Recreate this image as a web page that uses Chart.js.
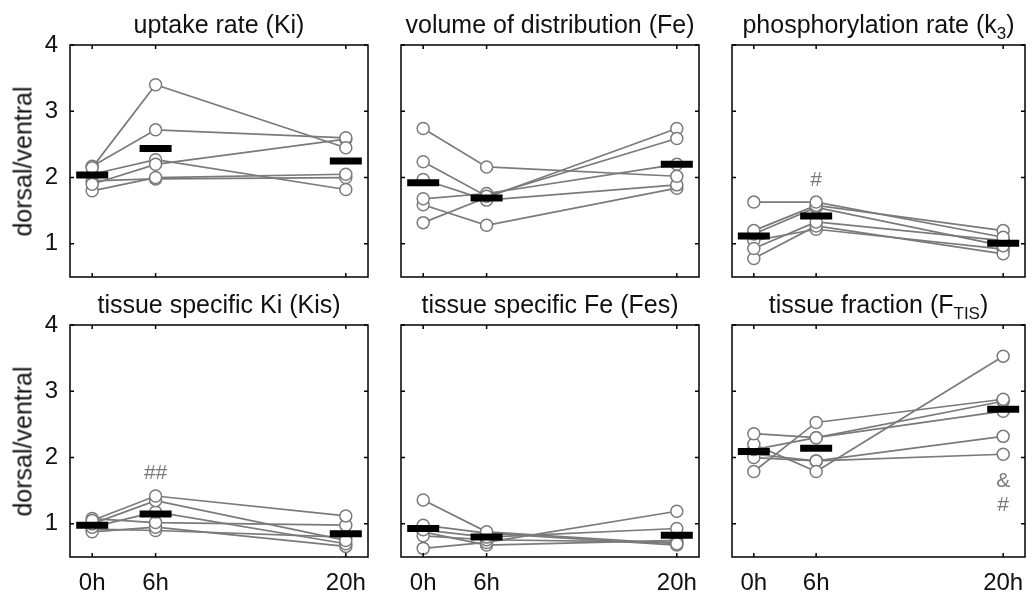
<!DOCTYPE html>
<html><head><meta charset="utf-8">
<script src="https://cdn.jsdelivr.net/npm/chart.js@4/dist/chart.umd.min.js"></script>
<style>
body{margin:0;background:#fff;}
#wrap{position:relative;width:1034px;height:597px;overflow:hidden;background:#fff;font-family:"Liberation Sans",Arial,sans-serif;color:#111;}
.panel{position:absolute;}
.title{position:absolute;font-size:25px;line-height:25px;white-space:nowrap;text-align:center;width:400px;}
.title sub{font-size:17px;vertical-align:-6px;line-height:0;}
.ylab{position:absolute;font-size:25px;line-height:25px;white-space:nowrap;width:240px;text-align:center;transform:rotate(-90deg);}
</style></head>
<body><div id="wrap"></div>
<script>
// ---- data ----
const timeLabels = ['0h', '6h', '20h'];
const timePos = [1, 2, 5];
const yTicks = [1, 2, 3, 4];
const yLabel = 'dorsal/ventral';
const titles = ['uptake rate (Ki)', 'volume of distribution (Fe)', 'phosphorylation rate (k<sub>3</sub>)',
                'tissue specific Ki (Kis)', 'tissue specific Fe (Fes)', 'tissue fraction (F<sub>TIS</sub>)'];

const kiSubjects = [[2.15, 3.40, 2.45], [2.17, 2.72, 2.60], [1.90, 2.20, 2.58], [2.05, 2.27, 1.82], [1.80, 2.00, 2.05], [1.95, 1.98, 2.00]];
const kiMeans = [2.04, 2.44, 2.25];

const feSubjects = [[2.74, 2.16, 2.02], [2.24, 1.72, 2.59], [1.97, 1.66, 1.89], [1.68, 1.76, 2.20], [1.59, 1.28, 1.84], [1.32, 1.70, 2.74]];
const feMeans = [1.92, 1.69, 2.20];

const k3Subjects = [[1.63, 1.63, 1.10], [1.20, 1.58, 1.20], [1.15, 1.55, 0.97], [0.93, 1.33, 1.05], [0.78, 1.27, 0.85], [1.05, 1.22, 0.92]];
const k3Means = [1.12, 1.42, 1.01];

const kisSubjects = [[1.05, 1.42, 1.12], [1.00, 1.35, 0.75], [0.95, 1.18, 0.70], [1.08, 1.02, 0.98], [0.88, 0.95, 0.66], [0.92, 0.90, 0.80]];
const kisMeans = [0.98, 1.15, 0.85];

const fesSubjects = [[1.36, 0.88, 0.70], [0.98, 0.86, 0.68], [0.91, 0.80, 0.93], [0.82, 0.76, 0.72], [0.63, 0.72, 1.19], [0.88, 0.68, 0.75]];
const fesMeans = [0.93, 0.80, 0.83];

const ftisSubjects = [[1.79, 2.53, 2.88], [2.36, 2.30, 2.85], [2.20, 1.79, 3.53], [2.12, 2.30, 2.70], [2.00, 1.95, 2.32], [2.05, 1.95, 2.05]];
const ftisMeans = [2.09, 2.14, 2.73];

const k3Marks = [{x: 2, y: 1.96, t: '#'}];
const kisMarks = [{x: 2, y: 1.76, t: '##'}];
const ftisMarks = [{x: 5, y: 1.64, t: '&'}, {x: 5, y: 1.28, t: '#'}];

// ---- layout ----
const cols = [[70, 368], [401, 699], [732, 1025]];
const rows = [[45, 277], [325, 557]];
const FONT = '"Liberation Sans", Arial, sans-serif';
const GRAY = '#7a7a7a';

const boxPlugin = {
  id: 'boxTicks',
  afterDraw(chart) {
    const {ctx, chartArea: a, scales: {x, y}} = chart;
    ctx.save();
    ctx.strokeStyle = '#000';
    ctx.lineWidth = 1.5;
    ctx.beginPath();
    timePos.forEach(v => {
      const px = x.getPixelForValue(v);
      ctx.moveTo(px, a.bottom); ctx.lineTo(px, a.bottom - 4);
      ctx.moveTo(px, a.top); ctx.lineTo(px, a.top + 4);
    });
    yTicks.forEach(v => {
      const py = y.getPixelForValue(v);
      ctx.moveTo(a.left, py); ctx.lineTo(a.left + 4, py);
      ctx.moveTo(a.right, py); ctx.lineTo(a.right - 4, py);
    });
    ctx.stroke();
    ctx.strokeRect(a.left, a.top, a.right - a.left, a.bottom - a.top);
    ctx.restore();
  }
};
const markPlugin = {
  id: 'marks',
  afterDatasetsDraw(chart, args, opts) {
    const marks = opts.marks || [];
    const {ctx, scales: {x, y}} = chart;
    ctx.save();
    ctx.fillStyle = GRAY;
    ctx.font = '21px ' + FONT;
    ctx.textAlign = 'center';
    ctx.textBaseline = 'middle';
    marks.forEach(m => ctx.fillText(m.t, x.getPixelForValue(m.x), y.getPixelForValue(m.y)));
    ctx.restore();
  }
};

const wrap = document.getElementById('wrap');
const PADL = 60, PADT = 28, PADR = 28, PADB = 45;

function makePanel(idx, subjects, means, marks) {
  const r = Math.floor(idx / 3), c = idx % 3;
  const [l, rt] = cols[c];
  const [t, b] = rows[r];
  const W = rt - l + PADL + PADR, H = b - t + PADT + PADB;
  const div = document.createElement('div');
  div.className = 'panel';
  div.style.left = (l - PADL) + 'px';
  div.style.top = (t - PADT) + 'px';
  div.style.width = W + 'px';
  div.style.height = H + 'px';
  const cv = document.createElement('canvas');
  cv.width = W; cv.height = H;
  div.appendChild(cv);
  wrap.appendChild(div);

  const title = document.createElement('div');
  title.className = 'title';
  title.innerHTML = titles[idx];
  title.style.left = ((l + rt) / 2 - 200) + 'px';
  title.style.top = (r === 0 ? 12 : 292) + 'px';
  wrap.appendChild(title);

  if (c === 0) {
    const yl = document.createElement('div');
    yl.className = 'ylab';
    yl.textContent = yLabel;
    yl.style.left = (23 - 120) + 'px';
    yl.style.top = ((t + b) / 2 - 12.5) + 'px';
    wrap.appendChild(yl);
  }

  const datasets = subjects.map(s => ({
    data: timePos.map((x, i) => ({x, y: s[i]})),
    showLine: true,
    borderColor: GRAY,
    borderWidth: 1.7,
    pointRadius: 6,
    pointBackgroundColor: '#fff',
    pointBorderColor: GRAY,
    pointBorderWidth: 1.5,
    order: 1
  }));
  datasets.push({
    data: timePos.map((x, i) => ({x, y: means[i]})),
    showLine: false,
    pointStyle: 'line',
    pointRadius: 16,
    pointBorderWidth: 7,
    pointBorderColor: '#000',
    pointBackgroundColor: '#000',
    order: 0
  });

  new Chart(cv, {
    type: 'scatter',
    data: {datasets},
    plugins: [boxPlugin, markPlugin],
    options: {
      responsive: false,
      animation: false,
      devicePixelRatio: 1,
      events: [],
      layout: {padding: {left: 0, top: PADT, right: PADR, bottom: 0}},
      plugins: {legend: {display: false}, tooltip: {enabled: false}, marks: {marks}},
      scales: {
        x: {
          type: 'linear', min: 0.65, max: 5.35,
          afterBuildTicks: s => { s.ticks = timePos.map(v => ({value: v})); },
          afterFit: s => { s.height = PADB; s.paddingLeft = 0; s.paddingRight = 0; s.paddingTop = 0; s.paddingBottom = 0; },
          grid: {display: false, drawTicks: false},
          border: {display: false},
          ticks: {
            display: r === 1,
            padding: 12,
            color: '#111',
            font: {family: FONT, size: 24},
            maxRotation: 0, autoSkip: false,
            callback: v => timeLabels[timePos.indexOf(v)]
          }
        },
        y: {
          type: 'linear', min: 0.5, max: 4,
          afterBuildTicks: s => { s.ticks = yTicks.map(v => ({value: v})); },
          afterFit: s => { s.width = PADL; s.paddingLeft = 0; s.paddingRight = 0; s.paddingTop = 0; s.paddingBottom = 0; },
          grid: {display: false, drawTicks: false},
          border: {display: false},
          ticks: {
            display: c === 0,
            padding: 12,
            color: '#111',
            font: {family: FONT, size: 24},
            callback: v => String(v)
          }
        }
      }
    }
  });
}

makePanel(0, kiSubjects, kiMeans, []);
makePanel(1, feSubjects, feMeans, []);
makePanel(2, k3Subjects, k3Means, k3Marks);
makePanel(3, kisSubjects, kisMeans, kisMarks);
makePanel(4, fesSubjects, fesMeans, []);
makePanel(5, ftisSubjects, ftisMeans, ftisMarks);
</script>
</body></html>
